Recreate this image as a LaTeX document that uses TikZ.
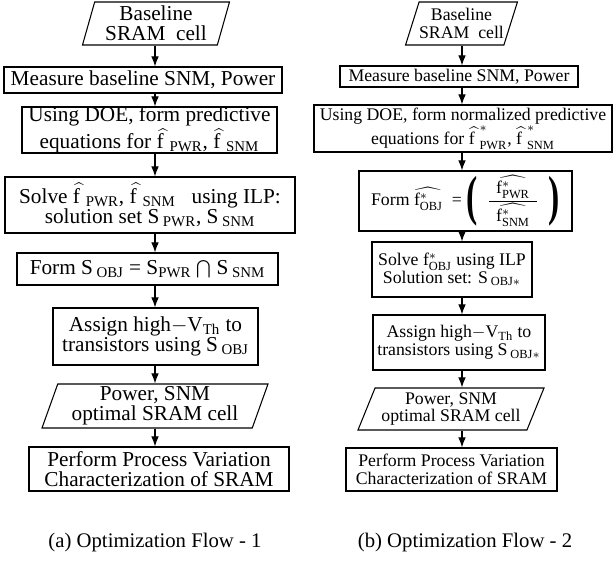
\documentclass[tikz,border=0pt]{standalone}
\usepackage{fontspec}
\setmainfont{Liberation Serif}
\usetikzlibrary{shapes.geometric,arrows.meta}
\newcommand{\hf}[1]{$\widehat{\mathrm{f}\;}_{\mathrm{#1}}$}
\newcommand{\hfs}[1]{$\widehat{\mathrm{f}\;}^{*}_{\mathrm{#1}}$}
\newcommand{\bigparen}[1]{\vcenter{\hbox{\scalebox{1.9}[3.1]{\bfseries #1}}}}
\newcommand{\fracpart}[1]{\makebox[27pt]{$\widehat{\mathrm{f}^{*}_{\mathrm{#1}}}$}}
\begin{document}
\begin{tikzpicture}[procbox/.style 2 args={draw,line width=0.6pt,align=center,inner sep=0pt,minimum width=#1,minimum height=#2},
  iobox/.style n args={3}{draw,line width=0.6pt,align=center,inner sep=0pt,trapezium,trapezium stretches body,
    trapezium left angle=#3,trapezium right angle=180-#3,minimum width=#1,minimum height=#2},
  flowarrow/.style={-{Latex[length=2mm,width=1.5mm]},line width=0.6pt},
  lcol/.style={font=\fontsize{12.1}{11.6}\selectfont},
  rcol/.style={font=\fontsize{10.1}{10.2}\selectfont},
  capt/.style={font=\fontsize{11.8}{12}\selectfont}]
\useasboundingbox (0,0) rectangle (12.26,11.26);
% flow 1
\node[iobox={2.94cm}{0.86cm}{71},lcol] (L1) at (3.12,10.79) {Baseline\\SRAM~~cell};
\node[procbox={5.56cm}{0.52cm},lcol] (L2) at (2.86,9.66) {Measure baseline SNM, Power};
\node[procbox={5.10cm}{0.92cm},lcol] (L3) at (2.99,8.66) {Using DOE, form predictive\\equations for \hf{PWR}, \hf{SNM}};
\node[procbox={5.80cm}{1.12cm},lcol] (L4) at (3.00,7.16) {Solve \hf{PWR}, \hf{SNM}~~ using ILP:\\solution set S$\,_{\mathrm{PWR}}$, S$\,_{\mathrm{SNM}}$};
\node[procbox={5.22cm}{0.64cm},lcol] (L5) at (2.95,5.88) {Form S$\,_{\mathrm{OBJ}}$ = S$_{\mathrm{PWR}}$ $\bigcap$ S$\,_{\mathrm{SNM}}$};
\node[procbox={4.10cm}{1.14cm},lcol] (L6) at (3.11,4.53) {Assign high$-$V$_{\mathrm{Th}}$ to\\transistors using S$\,_{\mathrm{OBJ}}$};
\node[iobox={4.52cm}{0.88cm}{68},lcol] (L7) at (3.10,3.14) {Power, SNM\\optimal SRAM cell};
\node[procbox={5.20cm}{0.88cm},lcol] (L8) at (3.18,1.88) {Perform Process Variation\\Characterization of SRAM};
\node[capt] (capa) at (3.10,0.40) {(a) Optimization Flow - 1};
% flow 2
\node[iobox={2.22cm}{0.86cm}{66},rcol] (R1) at (9.23,10.79) {Baseline\\SRAM~~cell};
\node[procbox={4.76cm}{0.42cm},rcol] (R2) at (9.18,9.73) {Measure baseline SNM, Power};
\node[procbox={5.96cm}{0.94cm},rcol] (R3) at (9.26,8.69) {Using DOE, form normalized predictive\\equations for \hfs{PWR}, \hfs{SNM}};
\node[procbox={4.26cm}{1.20cm},rcol] (R4) at (9.31,7.24) {Form $\widehat{\mathrm{f}^{*}_{\mathrm{OBJ}}}$ ~= $\bigparen{(}\;\;{\displaystyle\frac{\fracpart{PWR}}{\fracpart{SNM}}}\;\;\bigparen{)}$};
\node[procbox={3.20cm}{1.10cm},rcol] (R5) at (9.04,5.87) {Solve f$^{*}_{\mathrm{OBJ}}$ using ILP\\Solution set: S$\,_{\mathrm{OBJ*}}$};
\node[procbox={3.44cm}{1.10cm},rcol] (R6) at (9.18,4.41) {Assign high$-$V$_{\mathrm{Th}}$ to\\transistors using S$\,_{\mathrm{OBJ*}}$};
\node[iobox={3.72cm}{0.84cm}{63},rcol] (R7) at (9.02,3.08) {Power, SNM\\optimal SRAM cell};
\node[procbox={4.22cm}{0.86cm},rcol] (R8) at (9.03,1.87) {Perform Process Variation\\Characterization of SRAM};
\node[capt] (capb) at (9.30,0.40) {(b) Optimization Flow - 2};
% arrows
\coordinate (lax) at (3.10,0);
\coordinate (rax) at (9.24,0);
\foreach \a/\b in {1/2,2/3,3/4,4/5,5/6,6/7,7/8} {
  \draw[flowarrow] (L\a.south -| lax) -- (L\b.north -| lax);
  \draw[flowarrow] (R\a.south -| rax) -- (R\b.north -| rax);
}
\end{tikzpicture}
\end{document}
